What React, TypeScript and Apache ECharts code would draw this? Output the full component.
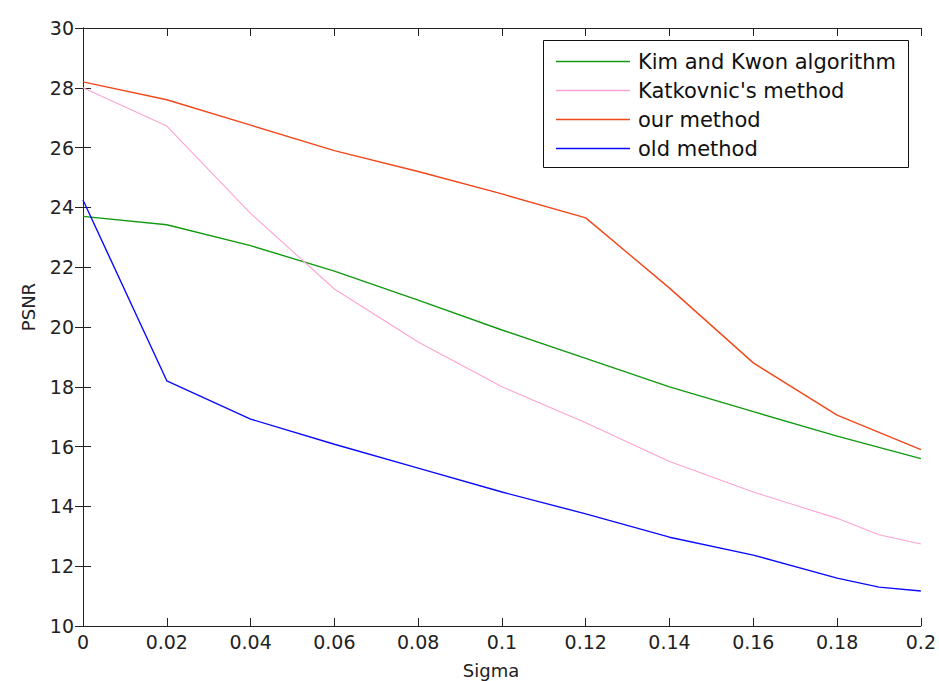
import React, { useEffect, useRef } from "react";
import * as echarts from "echarts";

// Noise level (sigma) sample points
const sigma = [0, 0.02, 0.04, 0.06, 0.08, 0.1, 0.12, 0.14, 0.16, 0.18, 0.2];
const sigmaFine = [0, 0.02, 0.04, 0.06, 0.08, 0.1, 0.12, 0.14, 0.16, 0.18, 0.19, 0.2];

// PSNR results per method
const kimKwon = [23.7, 23.42, 22.72, 21.87, 20.9, 19.9, 18.95, 18.0, 17.17, 16.35, 15.6];
const katkovnic = [28.0, 26.72, 23.8, 21.27, 19.5, 18.0, 16.8, 15.5, 14.48, 13.6, 13.05, 12.74];
const ourMethod = [28.2, 27.6, 26.75, 25.9, 25.2, 24.45, 23.65, 21.3, 18.8, 17.05, 15.9];
const oldMethod = [24.25, 18.2, 16.92, 16.08, 15.28, 14.48, 13.75, 12.97, 12.37, 11.6, 11.3, 11.17];

const seriesNames = ["Kim and Kwon algorithm", "Katkovnic's method", "our method", "old method"];
const seriesColors = ["#119a11", "#ffa3d2", "#f2471b", "#0a0aff"];

const pair = (xs: number[], ys: number[]) => ys.map((y, i) => [xs[i], y]);

const FONT = "DejaVu Sans";

export default function App() {
  const ref = useRef<HTMLDivElement>(null);

  useEffect(() => {
    if (!ref.current) return;
    const chart = echarts.init(ref.current, undefined, { renderer: "svg" });

    const axisLine = { show: true, lineStyle: { color: "#222", width: 1 } };
    const tickIn = { show: true, inside: true, length: 8, lineStyle: { color: "#222" } };

    const seriesData = [
      pair(sigma, kimKwon),
      pair(sigmaFine, katkovnic),
      pair(sigma, ourMethod),
      pair(sigmaFine, oldMethod),
    ];

    chart.setOption({
      animation: false,
      backgroundColor: "#ffffff",
      grid: { left: 83, right: 17, top: 28, bottom: 55, containLabel: false },
      xAxis: [
        {
          type: "value",
          min: 0,
          max: 0.2,
          interval: 0.02,
          position: "bottom",
          axisLine,
          axisTick: tickIn,
          splitLine: { show: false },
          axisLabel: {
            color: "#222",
            fontFamily: FONT,
            fontSize: 19,
            margin: 6,
            formatter: (v: number) => String(parseFloat(v.toFixed(2))),
          },
        },
        {
          type: "value",
          min: 0,
          max: 0.2,
          interval: 0.02,
          position: "top",
          axisLine,
          axisTick: tickIn,
          splitLine: { show: false },
          axisLabel: { show: false },
        },
      ],
      yAxis: [
        {
          type: "value",
          min: 10,
          max: 30,
          interval: 2,
          position: "left",
          axisLine,
          axisTick: tickIn,
          splitLine: { show: false },
          axisLabel: { color: "#222", fontFamily: FONT, fontSize: 19, margin: 9 },
        },
        {
          type: "value",
          min: 10,
          max: 30,
          interval: 2,
          position: "right",
          axisLine,
          axisTick: tickIn,
          splitLine: { show: false },
          axisLabel: { show: false },
        },
      ],
      legend: {
        orient: "vertical",
        left: 543,
        top: 40,
        z: 20,
        padding: [10, 14, 8, 13],
        itemWidth: 74,
        itemHeight: 1.6,
        itemGap: 6,
        data: seriesNames.map((n, i) => ({
          name: n,
          icon: "rect",
          itemStyle: { color: seriesColors[i] },
        })),
        textStyle: { fontFamily: FONT, fontSize: 21, color: "#111", lineHeight: 23, padding: [0, 0, 0, 3] },
      },
      graphic: [
        {
          type: "rect",
          z: 10,
          shape: { x: 543.5, y: 40.5, width: 365, height: 127 },
          style: { fill: "#ffffff", stroke: "#111", lineWidth: 1 },
        },
        {
          type: "text",
          x: 28,
          y: 307,
          rotation: Math.PI / 2,
          style: {
            text: "PSNR",
            fontFamily: FONT,
            fontSize: 18,
            fill: "#222",
            align: "center",
            verticalAlign: "middle",
          },
        },
        {
          type: "text",
          x: 491,
          y: 670,
          style: {
            text: "Sigma",
            fontFamily: FONT,
            fontSize: 18,
            fill: "#222",
            align: "center",
            verticalAlign: "middle",
          },
        },
      ],
      series: seriesNames.map((name, i) => ({
        name,
        type: "line",
        data: seriesData[i],
        symbol: "none",
        showSymbol: false,
        color: seriesColors[i],
        lineStyle: { color: seriesColors[i], width: i === 1 ? 1.1 : 1.4 },
      })),
    });

    return () => chart.dispose();
  }, []);

  return (
    <div
      ref={ref}
      style={{ position: "fixed", left: 0, top: 0, width: 939, height: 681, background: "#fff" }}
    />
  );
}
